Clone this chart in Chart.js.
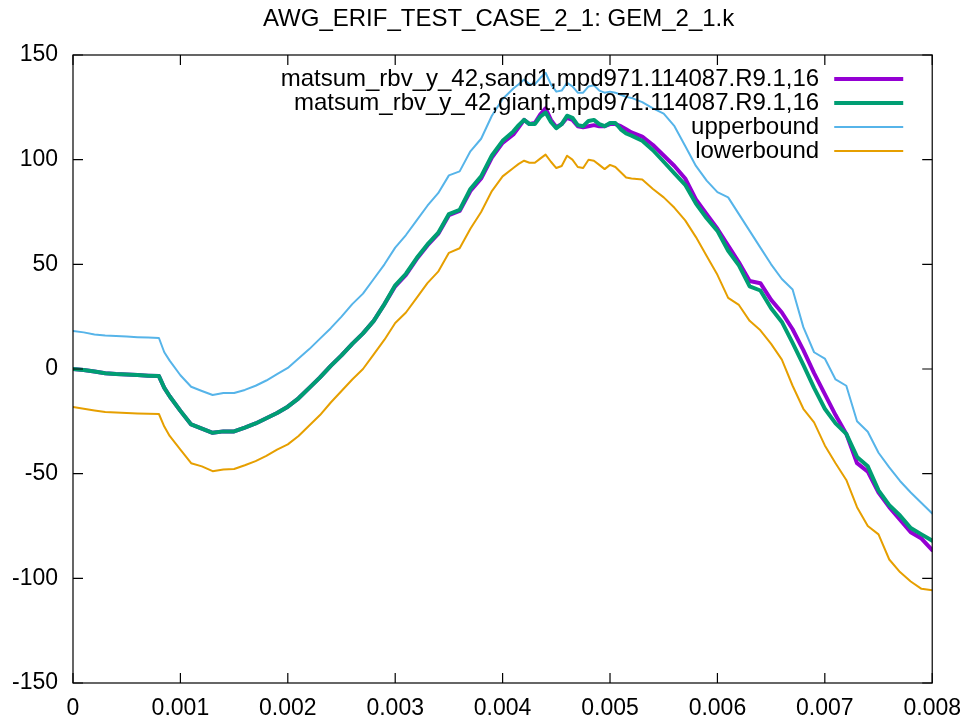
<!DOCTYPE html>
<html>
<head>
<meta charset="utf-8">
<script src="https://cdn.jsdelivr.net/npm/chart.js@4/dist/chart.umd.min.js"></script>
<style>
  html, body { margin: 0; padding: 0; background: #fff; }
  #wrap { width: 973px; height: 724px; }
</style>
</head>
<body>
<div id="wrap"><canvas id="chart" width="973" height="724"></canvas></div>
<script>
const chartTitle = "AWG_ERIF_TEST_CASE_2_1: GEM_2_1.k";
const seriesNames = [
  "matsum_rbv_y_42,sand1,mpd971.114087.R9.1,16",
  "matsum_rbv_y_42,giant,mpd971.114087.R9.1,16",
  "upperbound",
  "lowerbound",
];
const xTicks = [0, 0.001, 0.002, 0.003, 0.004, 0.005, 0.006, 0.007, 0.008];
const yTicks = [-150, -100, -50, 0, 50, 100, 150];

const xs = [
  0, 0.0001, 0.0002, 0.0003, 0.0004, 0.0005, 0.0006, 0.0007, 0.0008, 0.00085,
  0.0009, 0.001, 0.0011, 0.0012, 0.0013, 0.0014, 0.0015, 0.0016, 0.0017, 0.0018,
  0.0019, 0.002, 0.0021, 0.0022, 0.0023, 0.0024, 0.0025, 0.0026, 0.0027, 0.0028,
  0.0029, 0.003, 0.0031, 0.0032, 0.0033, 0.0034, 0.0035, 0.0036, 0.0037, 0.0038,
  0.0039, 0.004, 0.0041, 0.00415, 0.0042, 0.00425, 0.0043, 0.00435, 0.0044, 0.00445,
  0.0045, 0.00455, 0.0046, 0.00465, 0.0047, 0.00475, 0.0048, 0.00485, 0.0049, 0.00495,
  0.005, 0.00505, 0.0051, 0.00515, 0.0052, 0.0053, 0.0054, 0.0055, 0.0056, 0.0057,
  0.0058, 0.0059, 0.006, 0.0061, 0.0062, 0.0063, 0.0064, 0.0065, 0.0066, 0.0067,
  0.0068, 0.0069, 0.007, 0.0071, 0.0072, 0.0073, 0.0074, 0.0075, 0.0076, 0.0077,
  0.0078, 0.0079, 0.008,
];

const sand1 = [
  0, -0.5, -1.2, -2, -2.4, -2.6, -2.9, -3.2, -3.4, -9,
  -13, -20, -26.5, -28.5, -30.5, -29.8, -29.8, -28, -26, -23.5,
  -21, -18, -14, -9, -4, 1.5, 6.5, 12, 17, 23,
  31, 39.5, 45, 52.5, 59, 64.5, 73.5, 75.5, 85, 91,
  101, 108, 112, 115.5, 119, 117, 117.5, 121.5, 124.5, 119,
  115.5, 117, 120, 119, 116, 115.5, 116, 116.5, 116, 116,
  117, 117, 116, 114.5, 113, 111, 107, 102, 97, 91,
  81, 74, 67, 59, 51, 42, 41, 33, 27, 19,
  9, -2, -12, -22, -31, -45, -49, -59, -66, -72,
  -78, -81, -86.5,
];

const giant = [
  0, -0.5, -1.2, -2, -2.4, -2.6, -2.9, -3.2, -3.4, -9,
  -13, -20, -26.5, -28.5, -30.5, -29.8, -29.8, -28, -26, -23.5,
  -21, -18, -14, -9, -4, 1.5, 6.5, 12, 17, 23,
  31, 40, 45.5, 53, 59.5, 65, 74, 76, 86, 92,
  102, 109, 113.5, 116.5, 119, 117, 117, 120.5, 122.5, 118,
  115, 117, 121, 120, 116.5, 116, 118.5, 119, 117, 116,
  117.5, 117.5, 114.5, 112.5, 111.5, 109, 104.5, 99, 93.5, 88,
  79, 72, 66, 56.5, 49.5, 39.5, 37.5, 29, 22.5, 12.5,
  2, -9, -19, -26, -31, -42, -46.5, -58, -65, -70,
  -76, -79, -82,
];

const upperbound = [
  18.2, 17.5, 16.5, 16, 15.8, 15.5, 15.2, 15, 14.8, 8,
  4, -3, -8.5, -10.5, -12.4, -11.5, -11.5, -10, -8, -5.5,
  -2.5, 0.5, 5, 9.5, 14.5, 19.5, 25, 31, 36, 43,
  50, 58, 64, 71, 78, 84, 92.5, 94.4, 104, 110,
  121, 129, 134, 136, 138.3, 136, 136, 139, 141.5, 136,
  132.5, 133, 136.7, 135, 132, 132, 135, 135.5, 133, 132,
  132.5, 132, 131, 130, 129.5, 127.5, 124.5, 122, 116, 106.5,
  97, 90, 84.5, 82, 74, 66, 58, 50, 43, 38,
  20, 8, 5, -5, -8, -25, -30, -40, -47, -53.5,
  -59, -64, -69,
];

const lowerbound = [
  -18.2, -19, -19.8, -20.5, -20.8, -21, -21.2, -21.4, -21.5, -27.5,
  -32, -38.5, -45, -46.5, -48.8, -48, -47.8, -46, -44, -41.5,
  -38.5, -36, -32, -27, -22, -16, -10.5, -5, 0, 7,
  14, 22, 27, 34, 41, 46.5, 55.5, 57.7, 67, 75,
  85, 92, 96, 98, 99.5, 98.5, 98.5, 100.5, 102.4, 99,
  96, 97, 101.9, 100, 96.5, 96, 100, 99.5, 97.5, 95.5,
  97.5, 96.5, 94, 91.5, 91, 90.5, 86, 82, 77, 71,
  63, 54, 45, 34, 30.6, 23, 18.5, 12, 4.5, -8,
  -19, -25.5, -36.5, -45, -53, -66, -75, -79, -91, -97,
  -101.5, -105, -105.7,
];

const colors = ["#9400d3", "#009e73", "#56b4e9", "#e69f00"];
const widths = [4, 4, 2, 2];
const FONT = "'Liberation Sans', Arial, sans-serif";

const toPoints = (arr) => arr.map((v, i) => ({ x: xs[i], y: v }));

// gnuplot-ish frame: box, inward ticks on all sides, title, key in top right
const gnuFrame = {
  id: "gnuFrame",
  afterDatasetsDraw(chart) {
    const { ctx, chartArea: a, scales } = chart;
    ctx.save();
    ctx.strokeStyle = "#000";
    ctx.lineWidth = 1.2;
    ctx.strokeRect(a.left, a.top, a.right - a.left, a.bottom - a.top);
    ctx.beginPath();
    xTicks.forEach((t) => {
      const px = scales.x.getPixelForValue(t);
      ctx.moveTo(px, a.bottom); ctx.lineTo(px, a.bottom - 10);
      ctx.moveTo(px, a.top); ctx.lineTo(px, a.top + 10);
    });
    yTicks.forEach((t) => {
      const py = scales.y.getPixelForValue(t);
      ctx.moveTo(a.left, py); ctx.lineTo(a.left + 10, py);
      ctx.moveTo(a.right, py); ctx.lineTo(a.right - 10, py);
    });
    ctx.stroke();

    ctx.fillStyle = "#000";
    ctx.font = "24px " + FONT;
    ctx.textBaseline = "middle";
    ctx.textAlign = "center";
    ctx.fillText(chartTitle, (a.left + a.right) / 2 - 4, 19);

    ctx.textAlign = "right";
    seriesNames.forEach((name, i) => {
      const y = a.top + 24 + i * 24;
      ctx.fillStyle = "#000";
      ctx.fillText(name, a.right - 113, y);
      ctx.strokeStyle = colors[i];
      ctx.lineWidth = widths[i];
      ctx.beginPath();
      ctx.moveTo(a.right - 98, y);
      ctx.lineTo(a.right - 29, y);
      ctx.stroke();
    });
    ctx.restore();
  },
};

const datasets = [sand1, giant, upperbound, lowerbound].map((arr, i) => ({
  label: seriesNames[i],
  data: toPoints(arr),
  borderColor: colors[i],
  borderWidth: widths[i],
  borderJoinStyle: "round",
  borderCapStyle: "round",
  pointRadius: 0,
  tension: 0,
  fill: false,
  order: i === 0 ? 5 : i,
}));

new Chart(document.getElementById("chart"), {
  type: "line",
  data: { datasets },
  plugins: [gnuFrame],
  options: {
    responsive: false,
    animation: false,
    layout: { padding: { top: 55, right: 40, left: 0, bottom: 0 } },
    plugins: { legend: { display: false }, title: { display: false }, tooltip: { enabled: false } },
    scales: {
      x: {
        type: "linear",
        min: 0,
        max: 0.008,
        afterBuildTicks: (s) => { s.ticks = xTicks.map((v) => ({ value: v })); },
        afterFit: (s) => { s.height = 41; },
        grid: { drawOnChartArea: false, drawTicks: false },
        border: { display: false },
        ticks: {
          padding: 12,
          color: "#000",
          font: { family: FONT, size: 23 },
          maxRotation: 0,
          callback: (v) => String(Number(v.toFixed(3))),
        },
      },
      y: {
        min: -150,
        max: 150,
        afterBuildTicks: (s) => { s.ticks = yTicks.map((v) => ({ value: v })); },
        afterFit: (s) => { s.width = 73; },
        grid: { drawOnChartArea: false, drawTicks: false },
        border: { display: false },
        ticks: {
          padding: 15,
          color: "#000",
          font: { family: FONT, size: 23 },
        },
      },
    },
  },
});
</script>
</body>
</html>
